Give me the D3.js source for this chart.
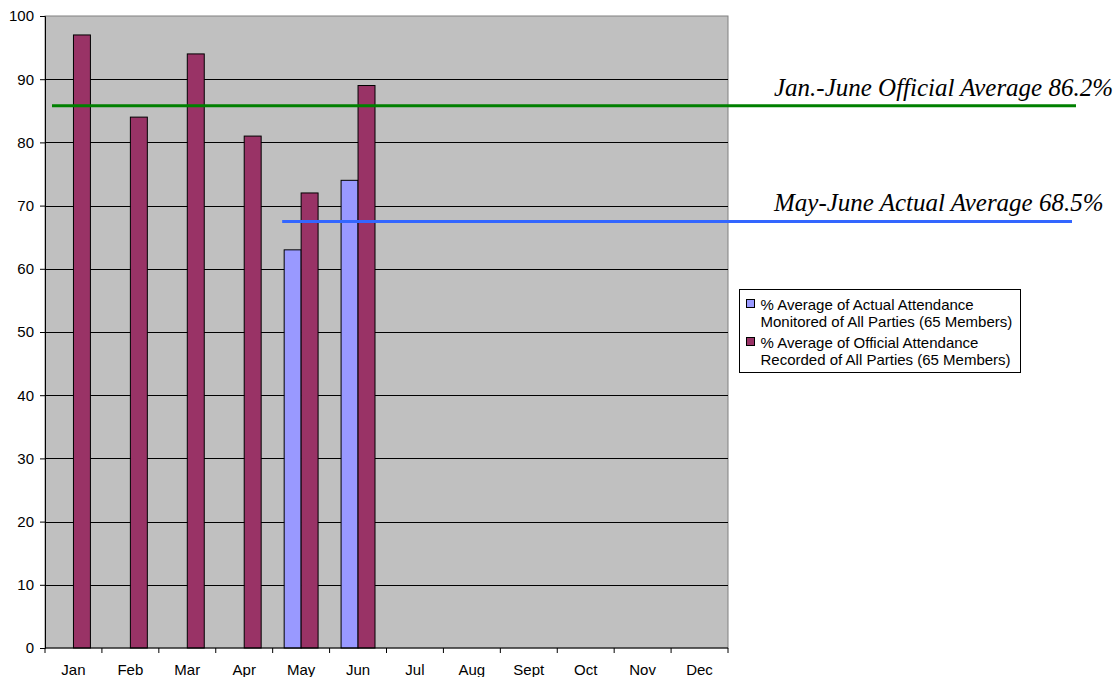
<!DOCTYPE html>
<html>
<head>
<meta charset="utf-8">
<script src="https://cdn.jsdelivr.net/npm/d3@7"></script>
<style>
  body { margin: 0; background: #fff; }
  svg { display: block; font-family: "Liberation Sans", Arial, sans-serif; }
</style>
</head>
<body>
<svg id="chart" width="1118" height="677"></svg>
<script>
const months = ["Jan", "Feb", "Mar", "Apr", "May", "Jun", "Jul", "Aug", "Sept", "Oct", "Nov", "Dec"];
const actual = [null, null, null, null, 63, 74, null, null, null, null, null, null];
const official = [97, 84, 94, 81, 72, 89, null, null, null, null, null, null];
const seriesNames = [
    ["% Average of Actual Attendance", "Monitored of All Parties (65 Members)"],
    ["% Average of Official Attendance", "Recorded of All Parties (65 Members)"]
];
const yTicks = [0, 10, 20, 30, 40, 50, 60, 70, 80, 90, 100];
// average lines: level drawn, first month covered, label
const avgLevels = [85.8, 67.5];
const avgFrom = ["Jan", "May"];
const avgLabels = ["Jan.-June Official Average 86.2%", "May-June Actual Average 68.5%"];

const colors = ["#9999ff", "#993366"];
const avgColors = ["#008000", "#3366ff"];

const margin = { top: 16, left: 45 };
const width = 683, height = 632;

const svg = d3.select("#chart");
const g = svg.append("g").attr("transform", `translate(${margin.left},${margin.top})`);

const x = d3.scaleBand().domain(months).range([0, width]);
const inner = d3.scaleBand().domain([0, 1]).range([11.5, x.bandwidth() - 11.5]);
const y = d3.scaleLinear().domain([0, 100]).range([height, 0]);

// plot area
g.append("rect")
    .attr("width", width).attr("height", height)
    .attr("fill", "#c0c0c0").attr("stroke", "#808080");

// gridlines
g.append("g").selectAll("line")
    .data(yTicks.filter(d => d > 0 && d < 100))
    .enter().append("line")
    .attr("x1", 0).attr("x2", width)
    .attr("y1", d => Math.round(y(d)) + 0.5).attr("y2", d => Math.round(y(d)) + 0.5)
    .attr("stroke", "#000");

// bars
const series = [actual, official];
series.forEach((vals, si) => {
    g.append("g").selectAll("rect")
        .data(months.map((m, i) => ({ m: m, v: vals[i] })).filter(d => d.v != null))
        .enter().append("rect")
        .attr("x", d => x(d.m) + inner(si))
        .attr("y", d => y(d.v))
        .attr("width", inner.bandwidth())
        .attr("height", d => height - y(d.v))
        .attr("fill", colors[si])
        .attr("stroke", "#000");
});

// y axis
const yAxis = g.append("g")
    .call(d3.axisLeft(y).tickValues(yTicks).tickSize(5).tickPadding(6));
yAxis.select(".domain").attr("stroke", "#000");
yAxis.selectAll("text").attr("font-size", 15).attr("fill", "#000")
    .attr("font-family", "'Liberation Sans', Arial, sans-serif");

// x axis: ticks at category boundaries
const xAxis = g.append("g").attr("transform", `translate(0,${height})`);
xAxis.append("line").attr("x1", 0).attr("x2", width).attr("stroke", "#000");
xAxis.selectAll("line.tick")
    .data(months.concat(["end"]))
    .enter().append("line").attr("class", "tick")
    .attr("x1", (d, i) => i * x.step()).attr("x2", (d, i) => i * x.step())
    .attr("y1", 0).attr("y2", 5).attr("stroke", "#000");
xAxis.selectAll("text")
    .data(months)
    .enter().append("text")
    .attr("x", d => x(d) + x.bandwidth() / 2)
    .attr("y", 27)
    .attr("text-anchor", "middle")
    .attr("font-size", 15)
    .text(d => d);

// average lines with labels
avgLevels.forEach((lv, i) => {
    const x0 = x(avgFrom[i]) + (i === 0 ? 7 : inner(0) - 2);
    g.append("line")
        .attr("x1", x0).attr("x2", 1076 - margin.left - i * 4)
        .attr("y1", y(lv)).attr("y2", y(lv))
        .attr("stroke", avgColors[i]).attr("stroke-width", 3);
    g.append("text")
        .attr("x", 774 - margin.left)
        .attr("y", y(lv) - 10)
        .attr("font-family", "'Liberation Serif', 'Times New Roman', serif")
        .attr("font-style", "italic")
        .attr("font-size", 25)
        .text(avgLabels[i]);
});

// legend
const legend = svg.append("g").attr("transform", "translate(739.5,289.5)");
legend.append("rect")
    .attr("width", 281).attr("height", 83)
    .attr("fill", "#fff").attr("stroke", "#000");
seriesNames.forEach((lines, i) => {
    const ly = i * 38;
    legend.append("rect")
        .attr("x", 7).attr("y", ly + 10)
        .attr("width", 8).attr("height", 8)
        .attr("fill", colors[i]).attr("stroke", "#000");
    lines.forEach((t, j) => {
        legend.append("text")
            .attr("x", 21).attr("y", ly + 20 + j * 17)
            .attr("font-size", 15)
            .text(t);
    });
});
</script>
</body>
</html>
